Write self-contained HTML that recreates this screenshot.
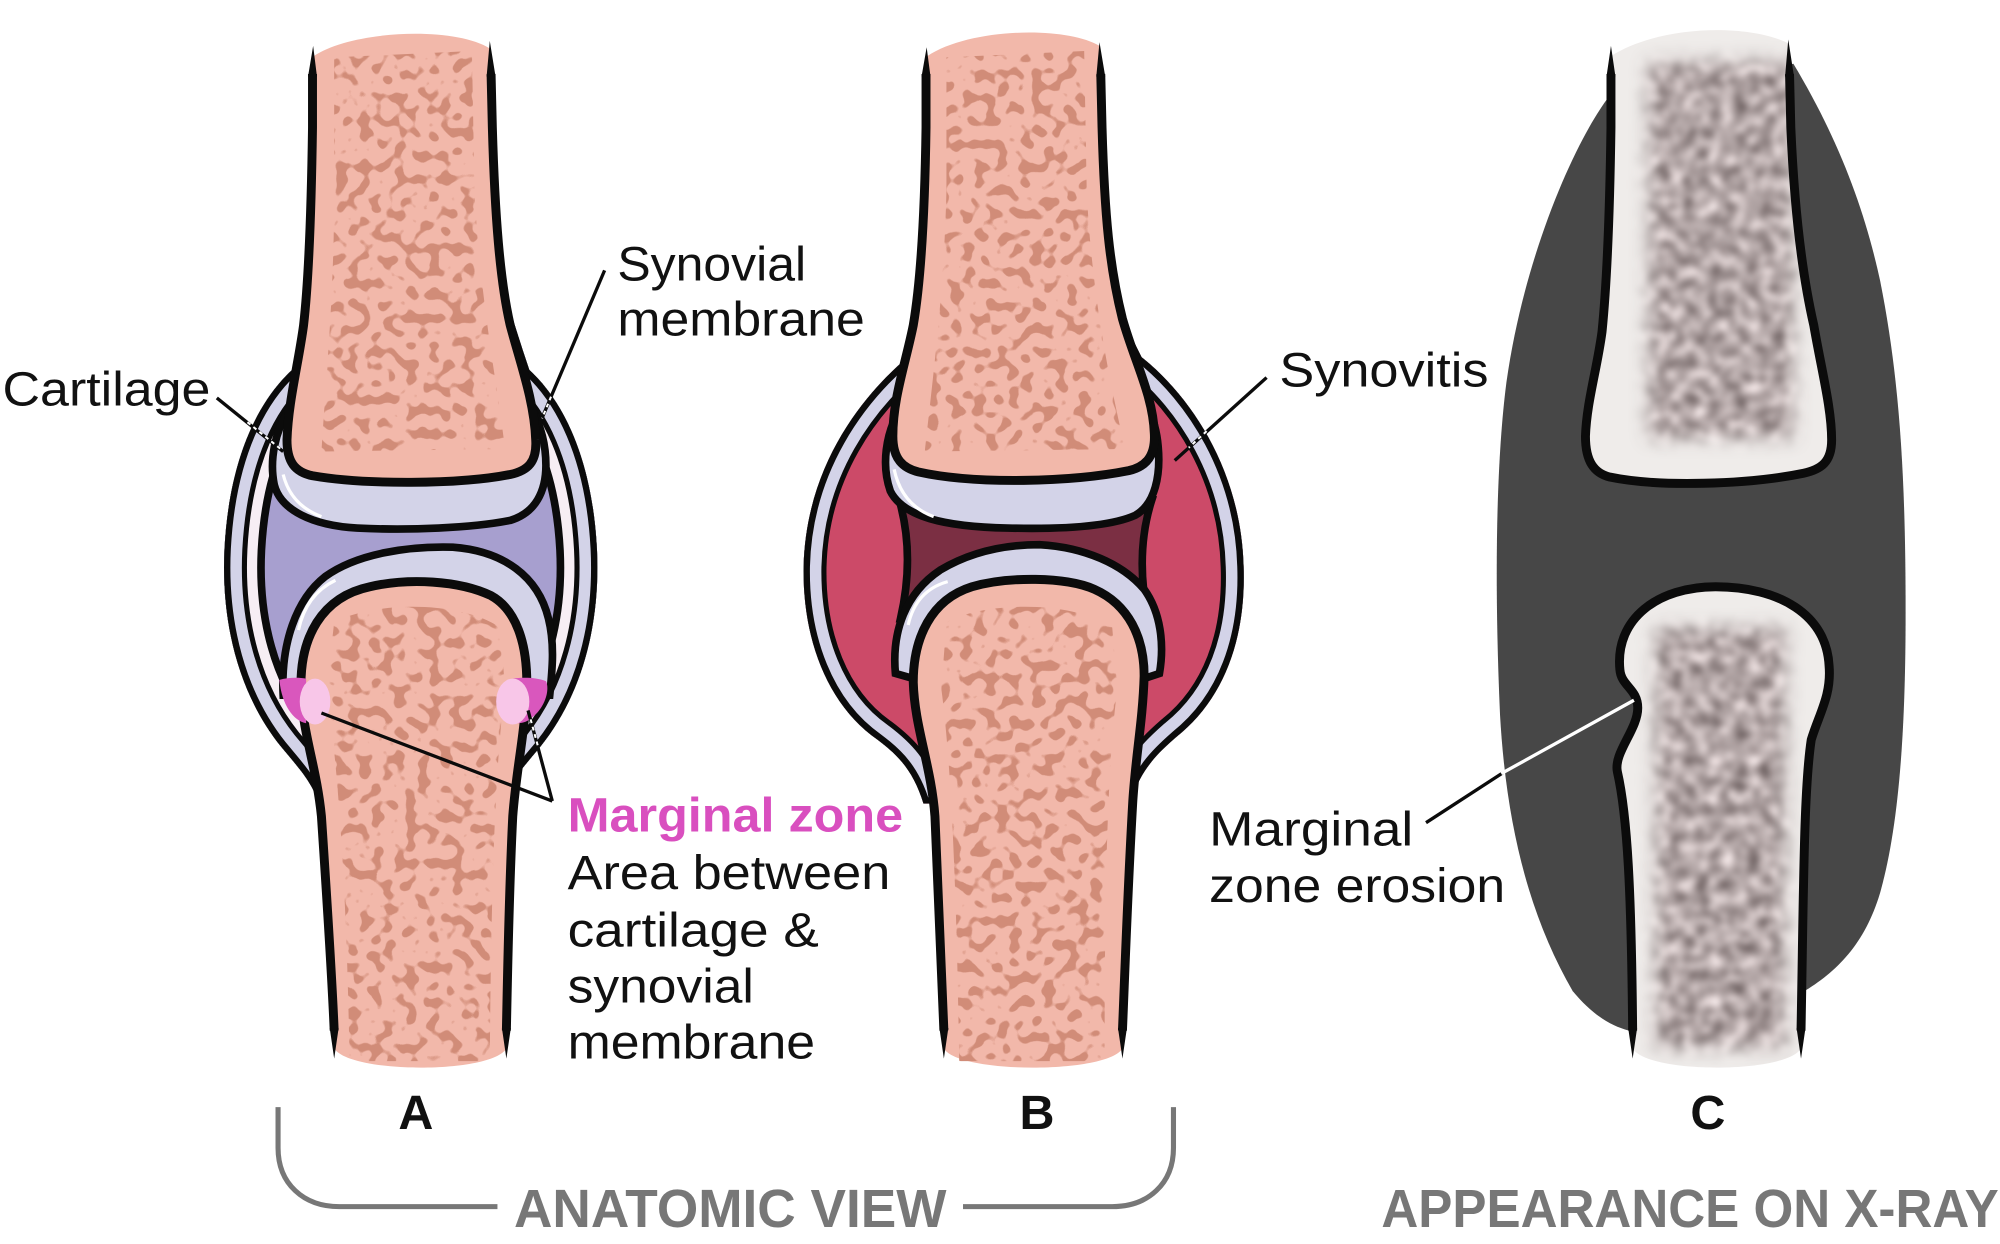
<!DOCTYPE html>
<html><head><meta charset="utf-8"><style>html,body{margin:0;padding:0;background:#fff}svg{display:block}</style></head>
<body>
<svg width="2000" height="1244" viewBox="0 0 1568 975.3" preserveAspectRatio="none" xmlns="http://www.w3.org/2000/svg">
<defs>
<filter id="sp" x="0" y="0" width="1" height="1" color-interpolation-filters="sRGB">
  <feTurbulence type="fractalNoise" baseFrequency="0.11" numOctaves="1" seed="11"/>
  <feColorMatrix type="matrix" values="0 0 0 0 0.82  0 0 0 0 0.55  0 0 0 0 0.47  20 0 0 0 -10.7"/>
</filter>
<filter id="xr" x="0" y="0" width="1" height="1" color-interpolation-filters="sRGB">
  <feTurbulence type="fractalNoise" baseFrequency="0.1" numOctaves="2" seed="5"/>
  <feColorMatrix type="matrix" values="0.9 0 0 0 0.25  0.9 0 0 0 0.2  0.9 0 0 0 0.2  0 0 0 0 1"/>
  <feGaussianBlur stdDeviation="2.6"/>
</filter>
<filter id="bl" x="-0.3" y="-0.3" width="1.6" height="1.6"><feGaussianBlur stdDeviation="7"/></filter>
<mask id="mC1"><rect x="1292" y="48" width="114" height="296" fill="#fff" filter="url(#bl)"/></mask>
<mask id="mC2"><rect x="1298" y="492" width="102" height="330" fill="#fff" filter="url(#bl)"/></mask>

<path id="capA" d="M 238,250 L 234,275 L 229,290 C 205,312 180,355 176,430 C 173,490 188,545 220,585 C 234,602 244,612 250,630 L 394,630 C 400,612 410,602 424,585 C 456,545 471,490 468,430 C 464,355 439,312 415,290 L 410,275 L 402,250 Z"/>
<clipPath id="cA"><use href="#capA"/></clipPath>
<path id="capB" d="M 720,240 L 713,268 L 706,285 C 676,312 632,365 630,444 C 629,500 648,552 688,580 C 704,592 716,604 724,630 L 886,630 C 894,604 906,592 922,578 C 960,548 977,500 975,444 C 973,370 935,312 895,280 L 886,262 L 878,240 Z"/>
<clipPath id="cB"><use href="#capB"/></clipPath>

<clipPath id="tA1"><path d="M 262,45 L 370,40 L 372,150 C 376,230 388,290 396,352 L 252,354 C 256,290 262,230 262,150 Z"/></clipPath>
<clipPath id="tA2"><path d="M 262,488 C 290,472 360,470 392,492 L 396,540 C 388,600 385,700 384,832 L 274,832 C 272,700 265,600 256,540 Z"/></clipPath>
<clipPath id="tB1"><path d="M 742,45 L 850,40 L 852,150 C 856,230 868,290 882,352 L 725,354 C 732,290 740,230 742,150 Z"/></clipPath>
<clipPath id="tB2"><path d="M 742,488 C 770,472 840,470 872,492 L 876,540 C 868,600 866,700 866,832 L 752,832 C 750,700 746,600 738,540 Z"/></clipPath>

<path id="boneC1" d="M 1263,44 C 1300,20 1370,18 1402,34 L 1404,100 C 1407,170 1414,220 1422,255 C 1428,290 1436,320 1436,345 C 1436,362 1428,368 1414,371 C 1370,380 1300,382 1262,374 C 1250,371 1243,362 1243,342 C 1244,315 1252,290 1256,260 C 1260,220 1262,170 1263,100 Z"/>
<path id="boneC2" d="M 1270,525 C 1266,485 1300,460 1345,460 C 1395,460 1432,482 1434,522 C 1436,545 1426,560 1420,580 C 1414,620 1414,700 1412,822 C 1400,842 1292,842 1280,822 C 1279,700 1276,640 1268,605 C 1265,590 1284,572 1284,555 C 1284,540 1271,538 1270,525 Z"/>
<clipPath id="kC1"><use href="#boneC1"/></clipPath>
<clipPath id="kC2"><use href="#boneC2"/></clipPath>
</defs>

<rect width="1568" height="975.3" fill="#fff"/>

<!-- ============ PANEL A ============ -->
<use href="#capA" fill="#a79fcf"/>
<g clip-path="url(#cA)" fill="none">
  <use href="#capA" stroke="#0b0b0b" stroke-width="64"/>
  <use href="#capA" stroke="#f7eef4" stroke-width="52"/>
  <use href="#capA" stroke="#0b0b0b" stroke-width="36"/>
  <use href="#capA" stroke="#d3d3e8" stroke-width="28"/>
  <use href="#capA" stroke="#0b0b0b" stroke-width="10"/>
</g>
<path d="M 226,322 C 216,338 211,360 215,380 C 220,400 245,412 280,414 C 320,416 370,414 400,408 C 420,402 428,385 428,365 C 428,348 424,335 418,322 Z" fill="#d3d3e8" stroke="#0b0b0b" stroke-width="6"/>
<path d="M 222,372 Q 228,396 252,405" fill="none" stroke="#fff" stroke-width="2.5"/>
<path d="M 222,545 C 220,505 232,470 255,452 C 280,434 320,428 355,429 C 395,432 422,452 430,485 C 435,505 433,525 431,545 Z" fill="#d3d3e8" stroke="#0b0b0b" stroke-width="6"/>
<path d="M 234,494 Q 240,466 263,455" fill="none" stroke="#fff" stroke-width="2.5"/>
<!-- lower bone A -->
<path d="M 236,540 C 235,500 252,468 290,460 C 320,453 360,455 385,467 C 405,478 413,505 413,535 C 412,575 405,600 402,640 C 399,700 398,760 397,822 C 385,842 275,842 262,822 C 260,760 256,700 252,640 C 248,600 237,575 236,540 Z" fill="#f2b8aa"/>
<rect x="240" y="450" width="175" height="390" fill="#000" filter="url(#sp)" clip-path="url(#tA2)"/>
<path d="M 262,808 C 260,760 256,700 252,640 C 248,600 237,575 236,540 C 235,500 252,468 290,460 C 320,453 360,455 385,467 C 405,478 413,505 413,535 C 412,575 405,600 402,640 C 399,700 398,760 397,808" fill="none" stroke="#0b0b0b" stroke-width="7"/>
<path d="M 258.5,806 L 262,830 L 265.5,806 Z M 393.5,806 L 397,830 L 400.5,806 Z" fill="#0b0b0b"/>
<!-- marginal zones -->
<path d="M 219,533 C 226,531 234,531 240,532 L 240,567 C 230,565 221,553 219,533 Z" fill="#d957bd"/>
<ellipse cx="247" cy="550" rx="12" ry="18" fill="#f8c6e8"/>
<path d="M 402,532 C 410,531 420,531 428,534 C 431,540 428,552 420,560 C 416,564 412,567 406,567 Z" fill="#d957bd"/>
<ellipse cx="402" cy="550" rx="13" ry="18" fill="#f8c6e8"/>
<!-- upper bone A -->
<path d="M 246,44 C 275,24 355,20 384,38 L 386,100 C 388,170 392,220 400,255 C 408,285 419,315 420,345 C 421,362 414,369 400,372 C 360,380 285,380 245,373 C 231,370 225,362 225,345 C 226,315 234,285 238,255 C 242,220 244,170 245,100 Z" fill="#f2b8aa"/>
<rect x="240" y="30" width="170" height="340" fill="#000" filter="url(#sp)" clip-path="url(#tA1)"/>
<path d="M 245,58 L 245,100 C 244,170 242,220 238,255 C 234,285 226,315 225,345 C 225,362 231,370 245,373 C 285,380 360,380 400,372 C 414,369 421,362 420,345 C 419,315 408,285 400,255 C 392,220 388,170 386,100 L 385,58" fill="none" stroke="#0b0b0b" stroke-width="7"/>
<path d="M 241.5,60 L 245.5,36 L 248.5,60 Z M 381.5,60 L 384,32 L 388.5,60 Z" fill="#0b0b0b"/>
<!-- leaders A -->
<g stroke="#0b0b0b" stroke-width="2.6" fill="none">
  <line x1="170" y1="312" x2="222" y2="354"/>
  <line x1="474" y1="212" x2="424" y2="330"/>
  <line x1="252" y1="559" x2="433" y2="628"/>
  <line x1="414" y1="557" x2="433" y2="628"/>
</g>
<g stroke="#fff" stroke-width="1.6" fill="none" stroke-dasharray="3,3">
  <line x1="194" y1="331" x2="220" y2="352"/>
  <line x1="432" y1="311" x2="425" y2="328"/>
  <line x1="416" y1="564" x2="422" y2="586"/>
</g>

<!-- ============ PANEL B ============ -->
<use href="#capB" fill="#cc4a68"/>
<g clip-path="url(#cB)" fill="none">
  <use href="#capB" stroke="#0b0b0b" stroke-width="36"/>
  <use href="#capB" stroke="#d3d3e8" stroke-width="28"/>
  <use href="#capB" stroke="#0b0b0b" stroke-width="10"/>
</g>
<path d="M 705,392 L 903,392 C 894,420 893,450 900,485 L 706,485 C 714,450 713,420 705,392 Z" fill="#7b2f43" stroke="#0b0b0b" stroke-width="6"/>
<path d="M 706,320 C 694,340 691,365 698,385 C 708,405 740,413 790,414 C 830,415 870,413 890,404 C 906,395 910,372 908,350 C 907,338 904,328 900,320 Z" fill="#d3d3e8" stroke="#0b0b0b" stroke-width="6"/>
<path d="M 701,368 Q 707,396 732,405" fill="none" stroke="#fff" stroke-width="2.5"/>
<path d="M 702,528 C 699,495 710,465 737,447 C 762,432 790,427 815,427 C 850,429 880,442 897,462 C 910,480 913,505 909,528 L 897,532 L 716,532 Z" fill="#d3d3e8" stroke="#0b0b0b" stroke-width="6"/>
<path d="M 712,490 Q 718,463 743,456" fill="none" stroke="#fff" stroke-width="2.5"/>
<!-- lower bone B -->
<path d="M 716,535 C 716,500 730,470 762,460 C 790,452 835,452 858,462 C 885,474 897,500 897,530 C 896,565 890,595 888,630 C 884,700 882,760 880,822 C 868,842 752,842 740,822 C 738,760 736,700 733,640 C 730,600 717,570 716,535 Z" fill="#f2b8aa"/>
<rect x="720" y="450" width="175" height="390" fill="#000" filter="url(#sp)" clip-path="url(#tB2)"/>
<path d="M 740,808 C 738,760 736,700 733,640 C 730,600 717,570 716,535 C 716,500 730,470 762,460 C 790,452 835,452 858,462 C 885,474 897,500 897,530 C 896,565 890,595 888,630 C 884,700 882,760 880,808" fill="none" stroke="#0b0b0b" stroke-width="7"/>
<path d="M 736.5,806 L 740,830 L 743.5,806 Z M 876.5,806 L 880,830 L 883.5,806 Z" fill="#0b0b0b"/>
<!-- upper bone B -->
<path d="M 727,44 C 760,22 835,20 862,36 L 864,100 C 866,170 870,210 880,250 C 890,285 904,310 905,340 C 906,358 898,366 885,369 C 840,378 765,380 720,370 C 708,367 700,360 700,342 C 700,312 710,285 716,255 C 722,220 725,170 726,100 Z" fill="#f2b8aa"/>
<rect x="720" y="30" width="170" height="340" fill="#000" filter="url(#sp)" clip-path="url(#tB1)"/>
<path d="M 726,58 L 726,100 C 725,170 722,220 716,255 C 710,285 700,312 700,342 C 700,360 708,367 720,370 C 765,380 840,378 885,369 C 898,366 906,358 905,340 C 904,310 890,285 880,250 C 870,210 866,170 864,100 L 863,58" fill="none" stroke="#0b0b0b" stroke-width="7"/>
<path d="M 722.5,60 L 726.5,37 L 729.5,60 Z M 859.5,60 L 862,33 L 866.5,60 Z" fill="#0b0b0b"/>
<line x1="993" y1="296" x2="921" y2="361" stroke="#0b0b0b" stroke-width="2.6"/>
<line x1="946" y1="338" x2="932" y2="351" stroke="#fff" stroke-width="1.6" stroke-dasharray="3,3"/>

<!-- ============ PANEL C ============ -->
<path d="M 1262,75 C 1235,110 1195,200 1181,300 C 1172,370 1172,470 1176,560 C 1181,650 1200,720 1233,777 C 1248,795 1262,804 1277,808 L 1413,778 C 1440,762 1462,740 1474,700 C 1488,650 1494,580 1494,480 C 1494,380 1490,300 1474,220 C 1462,165 1442,110 1406,50 Z" fill="#474747"/>
<use href="#boneC1" fill="#efecea"/>
<g clip-path="url(#kC1)"><g mask="url(#mC1)"><rect x="1270" y="30" width="160" height="340" fill="#000" filter="url(#xr)"/></g></g>
<path d="M 1263,58 L 1263,100 C 1262,170 1260,220 1256,260 C 1252,290 1244,315 1243,342 C 1243,362 1250,371 1262,374 C 1300,382 1370,380 1414,371 C 1428,368 1436,362 1436,345 C 1436,320 1428,290 1422,255 C 1414,220 1407,170 1404,100 L 1403,58" fill="none" stroke="#0b0b0b" stroke-width="7"/>
<path d="M 1259.5,60 L 1263,36 L 1266.5,60 Z M 1399.5,60 L 1402,31 L 1406.5,60 Z" fill="#0b0b0b"/>
<use href="#boneC2" fill="#efecea"/>
<g clip-path="url(#kC2)"><g mask="url(#mC2)"><rect x="1280" y="470" width="140" height="370" fill="#000" filter="url(#xr)"/></g></g>
<path d="M 1280,808 C 1279,700 1276,640 1268,605 C 1265,590 1284,572 1284,555 C 1284,540 1271,538 1270,525 C 1266,485 1300,460 1345,460 C 1395,460 1432,482 1434,522 C 1436,545 1426,560 1420,580 C 1414,620 1414,700 1412,808" fill="none" stroke="#0b0b0b" stroke-width="7"/>
<path d="M 1276.5,806 L 1280,830 L 1283.5,806 Z M 1408.5,806 L 1412,830 L 1415.5,806 Z" fill="#0b0b0b"/>
<line x1="1118" y1="645" x2="1178" y2="606" stroke="#0b0b0b" stroke-width="2.6"/>
<line x1="1177" y1="606.5" x2="1281" y2="549" stroke="#fff" stroke-width="2.6"/>

<!-- ============ BRACKET ============ -->
<path d="M 218,868 L 218,900 C 218,928 238,946 266,946 L 390,946 M 755,946 L 872,946 C 900,946 920,928 920,900 L 920,868" fill="none" stroke="#777" stroke-width="4"/>

<!-- ============ TEXT ============ -->
<g font-family="'Liberation Sans', Arial, sans-serif" font-size="38" fill="#111">
  <text x="484" y="220" textLength="148" lengthAdjust="spacingAndGlyphs">Synovial</text>
  <text x="484" y="263" textLength="194" lengthAdjust="spacingAndGlyphs">membrane</text>
  <text x="2" y="318" textLength="163" lengthAdjust="spacingAndGlyphs">Cartilage</text>
  <text x="1003" y="303" textLength="164" lengthAdjust="spacingAndGlyphs">Synovitis</text>
  <text x="445" y="652" textLength="263" lengthAdjust="spacingAndGlyphs" font-weight="bold" fill="#d94fbf">Marginal zone</text>
  <text x="445" y="697" textLength="253" lengthAdjust="spacingAndGlyphs">Area between</text>
  <text x="445" y="742" textLength="197" lengthAdjust="spacingAndGlyphs">cartilage &amp;</text>
  <text x="445" y="786" textLength="146" lengthAdjust="spacingAndGlyphs">synovial</text>
  <text x="445" y="830" textLength="194" lengthAdjust="spacingAndGlyphs">membrane</text>
  <text x="948" y="663" textLength="160" lengthAdjust="spacingAndGlyphs">Marginal</text>
  <text x="948" y="707" textLength="232" lengthAdjust="spacingAndGlyphs">zone erosion</text>
  <text x="326" y="885" font-weight="bold" text-anchor="middle">A</text>
  <text x="813" y="885" font-weight="bold" text-anchor="middle">B</text>
  <text x="1339" y="885" font-weight="bold" text-anchor="middle">C</text>
  <text x="403" y="962" textLength="339" lengthAdjust="spacingAndGlyphs" font-weight="bold" font-size="42" fill="#777">ANATOMIC VIEW</text>
  <text x="1083" y="962" textLength="484" lengthAdjust="spacingAndGlyphs" font-weight="bold" font-size="42" fill="#777">APPEARANCE ON X-RAY</text>
</g>
</svg>
</body></html>
